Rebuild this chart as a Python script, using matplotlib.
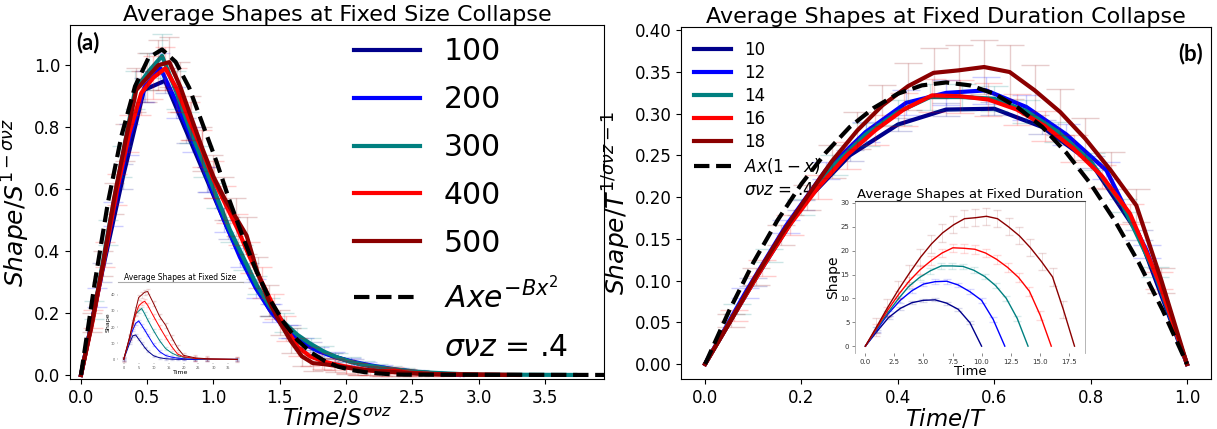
import matplotlib.pyplot as plt

# ---- panel (a): collapse at fixed size (x = Time/S^svz, y = Shape/S^(1-svz))
sizes = ['100', '200', '300', '400', '500']
colors = ['darkblue', 'blue', 'teal', 'red', 'darkred']

xa_100 = [0, .158, .317, .475, .634, .792, .951, 1.109, 1.268, 1.426, 1.585, 1.743, 1.902, 2.06, 2.219, 2.377, 2.536, 2.694, 2.853]
ya_100 = [0, .33, .64, .92, .95, .79, .63, .47, .33, .21, .14, .09, .06, .04, .025, .016, .009, .004, 0]
ea_100 = [0, .03, .04, .04, .04, .04, .04, .03, .03, .02, .02, .015, .01, .01, .008, .006, .004, .003, 0]

xa_200 = [0, .12, .24, .36, .48, .60, .72, .84, .96, 1.08, 1.20, 1.32, 1.44, 1.56, 1.68, 1.80, 1.92, 2.04, 2.16, 2.28, 2.40, 2.52, 2.64, 2.76, 2.88]
ya_200 = [0, .25, .52, .76, .93, .99, .88, .76, .63, .50, .38, .28, .20, .14, .10, .075, .058, .044, .033, .024, .016, .01, .006, .003, 0]
ea_200 = [0, .03, .04, .05, .05, .05, .05, .04, .04, .04, .03, .03, .03, .02, .02, .015, .015, .012, .01, .008, .006, .005, .004, .003, 0]

xa_300 = [0, .102, .204, .306, .408, .51, .612, .714, .816, .918, 1.02, 1.122, 1.224, 1.326, 1.428, 1.53, 1.632, 1.734, 1.836, 1.938, 2.04, 2.142, 2.244, 2.346, 2.448, 2.55, 2.652, 2.754, 2.856, 3.06, 3.73]
ya_300 = [0, .21, .46, .69, .92, .98, 1.03, .92, .80, .69, .58, .47, .38, .29, .22, .17, .13, .10, .075, .056, .042, .032, .025, .019, .014, .01, .007, .005, .003, .001, 0]
ea_300 = [0, .03, .04, .05, .06, .06, .07, .06, .05, .05, .04, .04, .04, .03, .03, .03, .02, .02, .02, .015, .015, .012, .01, .01, .008, .006, .005, .004, .003, .002, 0]

xa_400 = [0, .091, .182, .273, .364, .455, .546, .637, .728, .819, .91, 1.001, 1.092, 1.183, 1.274, 1.365, 1.456, 1.547, 1.638, 1.729, 1.82, 1.911, 2.002, 2.093, 2.184, 2.275, 2.366, 2.457, 2.548, 2.73, 3.3]
ya_400 = [0, .18, .39, .6, .78, .91, .96, .99, .92, .82, .73, .63, .55, .47, .38, .30, .22, .15, .09, .06, .045, .035, .027, .02, .015, .012, .014, .008, .005, .002, 0]
ea_400 = [0, .03, .04, .05, .06, .07, .07, .07, .07, .06, .06, .06, .06, .05, .05, .05, .04, .04, .03, .03, .025, .02, .02, .02, .015, .015, .012, .01, .008, .005, 0]

xa_500 = [0, .083, .167, .25, .333, .417, .5, .583, .667, .75, .833, .917, 1.0, 1.083, 1.167, 1.25, 1.333, 1.417, 1.5, 1.583, 1.667, 1.75, 1.833, 1.917, 2.0, 2.083, 2.167, 2.25, 2.333, 2.417, 2.5, 2.667, 3.2]
ya_500 = [0, .17, .36, .57, .75, .92, .96, 1.0, 1.01, .93, .83, .73, .64, .57, .51, .45, .33, .24, .17, .11, .06, .038, .035, .03, .024, .019, .015, .012, .01, .008, .005, .002, 0]
ea_500 = [0, .03, .04, .05, .06, .07, .08, .08, .08, .08, .07, .07, .07, .07, .06, .06, .05, .05, .04, .04, .03, .025, .02, .02, .02, .02, .015, .015, .012, .01, .008, .005, 0]

xa_fit = [0, .102, .204, .306, .408, .51, .612, .714, .816, .918, 1.02, 1.122, 1.224, 1.326, 1.428, 1.53, 1.632, 1.734, 1.836, 1.938, 2.04, 2.142, 2.244, 2.346, 2.448, 3.96]
ya_fit = [0, .292, .558, .773, .932, 1.024, 1.051, 1.011, .928, .81, .692, .562, .443, .333, .242, .17, .113, .073, .046, .027, .016, .009, .005, .002, .001, 0]

# inset (a): raw shapes vs time
ta_in = [0, 2, 3, 4, 5, 6, 7, 8, 10, 12, 14, 16, 18, 20, 24, 28, 38]
sa_in_100 = [0, 10.1, 14.6, 15.1, 12.5, 10.0, 7.4, 5.2, 2.2, 1.0, .4, .15, .05, 0, 0, 0, 0]
sa_in_200 = [0, 12.5, 18.2, 22.3, 23.8, 21.1, 18.2, 15.1, 9.1, 4.8, 2.4, 1.4, .8, .4, 0, 0, 0]
sa_in_300 = [0, 13.5, 20.8, 28.2, 30.0, 31.5, 28.2, 24.5, 17.7, 11.6, 6.7, 4.0, 2.3, 1.3, .4, .1, 0]
sa_in_400 = [0, 13.5, 21.1, 28.0, 33.1, 34.9, 36.0, 33.5, 26.6, 20.0, 13.8, 8.0, 3.3, 1.6, .55, .2, 0]
sa_in_500 = [0, 14.1, 22.9, 30.8, 38.3, 39.9, 41.6, 42.0, 34.5, 26.6, 21.2, 13.7, 7.1, 2.5, .9, .4, 0]
ea_in = [.5, .8, 1.0, 1.3, 1.6]

# ---- panel (b): collapse at fixed duration (x = Time/T, y = Shape/T^(1/svz-1))
durations = ['10', '12', '14', '16', '18']

xb_10 = [0, .1, .2, .3, .4, .5, .6, .7, .8, .9, 1.0]
yb_10 = [0, .098, .19, .25, .287, .305, .306, .284, .242, .155, 0]
eb_10 = [0, .005, .006, .007, .008, .008, .008, .008, .007, .006, 0]

xb_12 = [0, .083, .167, .25, .333, .417, .5, .583, .667, .75, .833, .917, 1.0]
yb_12 = [0, .085, .165, .232, .278, .313, .325, .328, .308, .275, .232, .135, 0]
eb_12 = [0, .006, .008, .01, .012, .015, .015, .016, .015, .013, .01, .008, 0]

xb_14 = [0, .067, .133, .2, .267, .333, .4, .467, .533, .6, .667, .733, .8, .867, .933, 1.0]
yb_14 = [0, .066, .13, .188, .238, .275, .302, .32, .32, .318, .303, .278, .243, .19, .11, 0]
eb_14 = [0, .006, .008, .01, .012, .014, .015, .016, .016, .015, .014, .012, .01, .008, .006, 0]

xb_16 = [0, .059, .118, .176, .235, .294, .353, .412, .471, .529, .588, .647, .706, .765, .824, .882, .941, 1.0]
yb_16 = [0, .058, .115, .167, .212, .25, .28, .305, .322, .321, .317, .305, .285, .258, .225, .18, .1, 0]
eb_16 = [0, .007, .01, .012, .014, .016, .018, .02, .02, .02, .02, .019, .018, .016, .014, .012, .01, 0]

xb_18 = [0, .053, .105, .158, .211, .263, .316, .368, .421, .474, .526, .579, .632, .684, .737, .789, .842, .895, .947, 1.0]
yb_18 = [0, .052, .105, .155, .2, .243, .28, .31, .333, .349, .352, .356, .35, .328, .302, .27, .232, .19, .1, 0]
eb_18 = [0, .008, .01, .012, .015, .02, .022, .025, .028, .03, .03, .032, .032, .03, .028, .025, .022, .02, .015, 0]

xb_fit = [0, .05, .1, .15, .2, .25, .3, .35, .4, .45, .5, .55, .6, .65, .7, .75, .8, .85, .9, .95, 1.0]
yb_fit = [0, .064, .1215, .172, .216, .253, .284, .307, .324, .334, .3375, .334, .324, .307, .284, .253, .216, .172, .1215, .064, 0]

# inset (b): raw shapes vs time
tb_in_10 = [0, 1, 2, 3, 4, 5, 6, 7, 8, 9, 10]
sb_in_10 = [0, 3.1, 6.0, 7.9, 9.1, 9.6, 9.7, 9.0, 7.7, 4.9, 0]
tb_in_12 = [0, 1, 2, 3, 4, 5, 6, 7, 8, 9, 10, 11, 12]
sb_in_12 = [0, 3.5, 6.9, 9.6, 11.6, 13.0, 13.5, 13.6, 12.8, 11.4, 9.6, 5.6, 0]
tb_in_14 = [0, .93, 1.87, 2.8, 3.73, 4.67, 5.6, 6.53, 7.47, 8.4, 9.33, 10.27, 11.2, 12.13, 13.07, 14]
sb_in_14 = [0, 3.5, 6.8, 9.8, 12.5, 14.4, 15.8, 16.8, 16.8, 16.7, 15.9, 14.6, 12.7, 10.0, 5.8, 0]
tb_in_16 = [0, .94, 1.88, 2.82, 3.76, 4.71, 5.65, 6.59, 7.53, 8.47, 9.41, 10.35, 11.29, 12.24, 13.18, 14.12, 15.06, 16]
sb_in_16 = [0, 3.7, 7.4, 10.7, 13.6, 16.0, 17.9, 19.5, 20.6, 20.5, 20.3, 19.5, 18.2, 16.5, 14.4, 11.5, 6.4, 0]
tb_in_18 = [0, .95, 1.89, 2.84, 3.79, 4.74, 5.68, 6.63, 7.58, 8.53, 9.47, 10.42, 11.37, 12.32, 13.26, 14.21, 15.16, 16.11, 17.05, 18]
sb_in_18 = [0, 4.0, 8.0, 11.8, 15.3, 18.6, 21.4, 23.7, 25.4, 26.7, 26.9, 27.2, 26.7, 25.0, 23.1, 20.6, 17.7, 14.5, 7.6, 0]
eb_in = [.3, .5, .6, .9, 1.8]

plt.rcParams['mathtext.fontset'] = 'dejavusans'

fig = plt.figure(figsize=(12.17, 4.29), dpi=100)
ax1 = fig.add_axes([0.0575, 0.1166, 0.4388, 0.8252])
ax2 = fig.add_axes([0.5596, 0.1166, 0.4355, 0.8205])

# ---------------- panel (a)
series_a = [(xa_100, ya_100, ea_100), (xa_200, ya_200, ea_200), (xa_300, ya_300, ea_300),
            (xa_400, ya_400, ea_400), (xa_500, ya_500, ea_500)]
for (x, y, e), c, lab in zip(series_a, colors, sizes):
    ax1.errorbar(x[1:-1], y[1:-1], yerr=e[1:-1], fmt='none', ecolor=c, elinewidth=1, capsize=7, alpha=0.2)
    ax1.plot(x, y, color=c, lw=3, label=lab)
ax1.plot(xa_fit, ya_fit, 'k--', lw=3, label=r'$Axe^{-Bx^2}$')
ax1.plot([], [], ' ', label=r'$\sigma\nu z$ = .4')
ax1.set_xlim(-0.083, 3.947)
ax1.set_ylim(-0.013, 1.13)
ax1.set_xticks([0, 0.5, 1.0, 1.5, 2.0, 2.5, 3.0, 3.5])
ax1.tick_params(labelsize=12)
ax1.set_title('Average Shapes at Fixed Size Collapse', fontsize=16, pad=0)
ax1.set_xlabel(r'$Time/S^{\sigma\nu z}$', fontsize=16.5, labelpad=0)
ax1.set_ylabel(r'$Shape/S^{1-\sigma\nu z}$', fontsize=18, labelpad=1)
leg1 = ax1.legend(loc='upper left', bbox_to_anchor=(0.532, 0.965), frameon=False, fontsize=21.5,
                  handlelength=2.2, labelspacing=0.63, borderpad=0, borderaxespad=0, handletextpad=0.8)
ax1.text(0.012, 0.98, '(a)', transform=ax1.transAxes, fontsize=16, fontweight='bold',
         family='Lato', va='top', ha='left')

ins1 = fig.add_axes([0.097, 0.154, 0.1027, 0.189])
ins_a = [sa_in_100, sa_in_200, sa_in_300, sa_in_400, sa_in_500]
for s, e, c in zip(ins_a, ea_in, colors):
    ins1.errorbar(ta_in, s, yerr=e, fmt='none', ecolor=c, elinewidth=0.5, capsize=1.5, alpha=0.15)
    ins1.plot(ta_in, s, color=c, lw=0.7)
ins1.set_ylim(-2.2, 48)
ins1.set_xticks([0, 5, 10, 15, 20, 25, 30, 35])
ins1.set_yticks([0, 10, 20, 30, 40])
ins1.tick_params(labelsize=2.5, length=1, width=0.3, pad=1, colors='#555555')
for sp in ['left', 'right', 'bottom']:
    ins1.spines[sp].set_visible(False)
ins1.spines['top'].set_color('#aaaaaa')
ins1.set_title('Average Shapes at Fixed Size', fontsize=5.5, pad=1)
ins1.set_xlabel('Time', fontsize=4.5, labelpad=0)
ins1.set_ylabel('Shape', fontsize=4.5, labelpad=0)

# ---------------- panel (b)
series_b = [(xb_10, yb_10, eb_10), (xb_12, yb_12, eb_12), (xb_14, yb_14, eb_14),
            (xb_16, yb_16, eb_16), (xb_18, yb_18, eb_18)]
for (x, y, e), c, lab in zip(series_b, colors, durations):
    ax2.errorbar(x[1:-1], y[1:-1], yerr=e[1:-1], fmt='none', ecolor=c, elinewidth=1, capsize=10, alpha=0.2)
    ax2.plot(x, y, color=c, lw=3, label=lab)
ax2.plot(xb_fit, yb_fit, 'k--', lw=3, label=r'$Ax(1-x)$')
ax2.plot([], [], ' ', label=r'$\sigma\nu z$ = .4')
ax2.set_xlim(-0.05, 1.05)
ax2.set_ylim(-0.018, 0.404)
ax2.set_xticks([0, 0.2, 0.4, 0.6, 0.8, 1.0])
ax2.set_yticks([0, .05, .1, .15, .2, .25, .3, .35, .4])
ax2.tick_params(labelsize=12)
ax2.set_title('Average Shapes at Fixed Duration Collapse', fontsize=16, pad=0)
ax2.set_xlabel(r'$Time/T$', fontsize=16.5, labelpad=0)
ax2.set_ylabel(r'$Shape/T^{1/\sigma\nu z-1}$', fontsize=18, labelpad=1)
leg2 = ax2.legend(loc='upper left', bbox_to_anchor=(0.0245, 0.96), frameon=False, fontsize=12,
                  handlelength=2.2, labelspacing=0.3, borderpad=0, borderaxespad=0, handletextpad=0.8)
leg2.set_zorder(1)
ax2.text(0.985, 0.955, '(b)', transform=ax2.transAxes, fontsize=16, fontweight='bold',
         family='Lato', va='top', ha='right')

ins2 = fig.add_axes([0.7025, 0.177, 0.189, 0.355])
ins_b = [(tb_in_10, sb_in_10), (tb_in_12, sb_in_12), (tb_in_14, sb_in_14),
         (tb_in_16, sb_in_16), (tb_in_18, sb_in_18)]
for (t, s), e, c in zip(ins_b, eb_in, colors):
    ins2.errorbar(t[1:-1], s[1:-1], yerr=e, fmt='none', ecolor=c, elinewidth=0.6, capsize=3, alpha=0.15)
    ins2.plot(t, s, color=c, lw=1)
ins2.set_xticks([0, 2.5, 5, 7.5, 10, 12.5, 15, 17.5])
ins2.set_yticks([0, 5, 10, 15, 20, 25, 30])
ins2.tick_params(labelsize=5, length=2, width=0.4, pad=2, colors='#333333')
ins2.spines['bottom'].set_visible(False)
for sp in ['left', 'right']:
    ins2.spines[sp].set_color('#aaaaaa')
    ins2.spines[sp].set_linewidth(0.6)
ins2.spines['top'].set_color('#444444')
ins2.set_title('Average Shapes at Fixed Duration', fontsize=9.5, pad=2)
ins2.set_xlabel('Time', fontsize=9.5, labelpad=0)
ins2.set_ylabel('Shape', fontsize=10, labelpad=0)

fig.savefig('out.png', dpi=100)
